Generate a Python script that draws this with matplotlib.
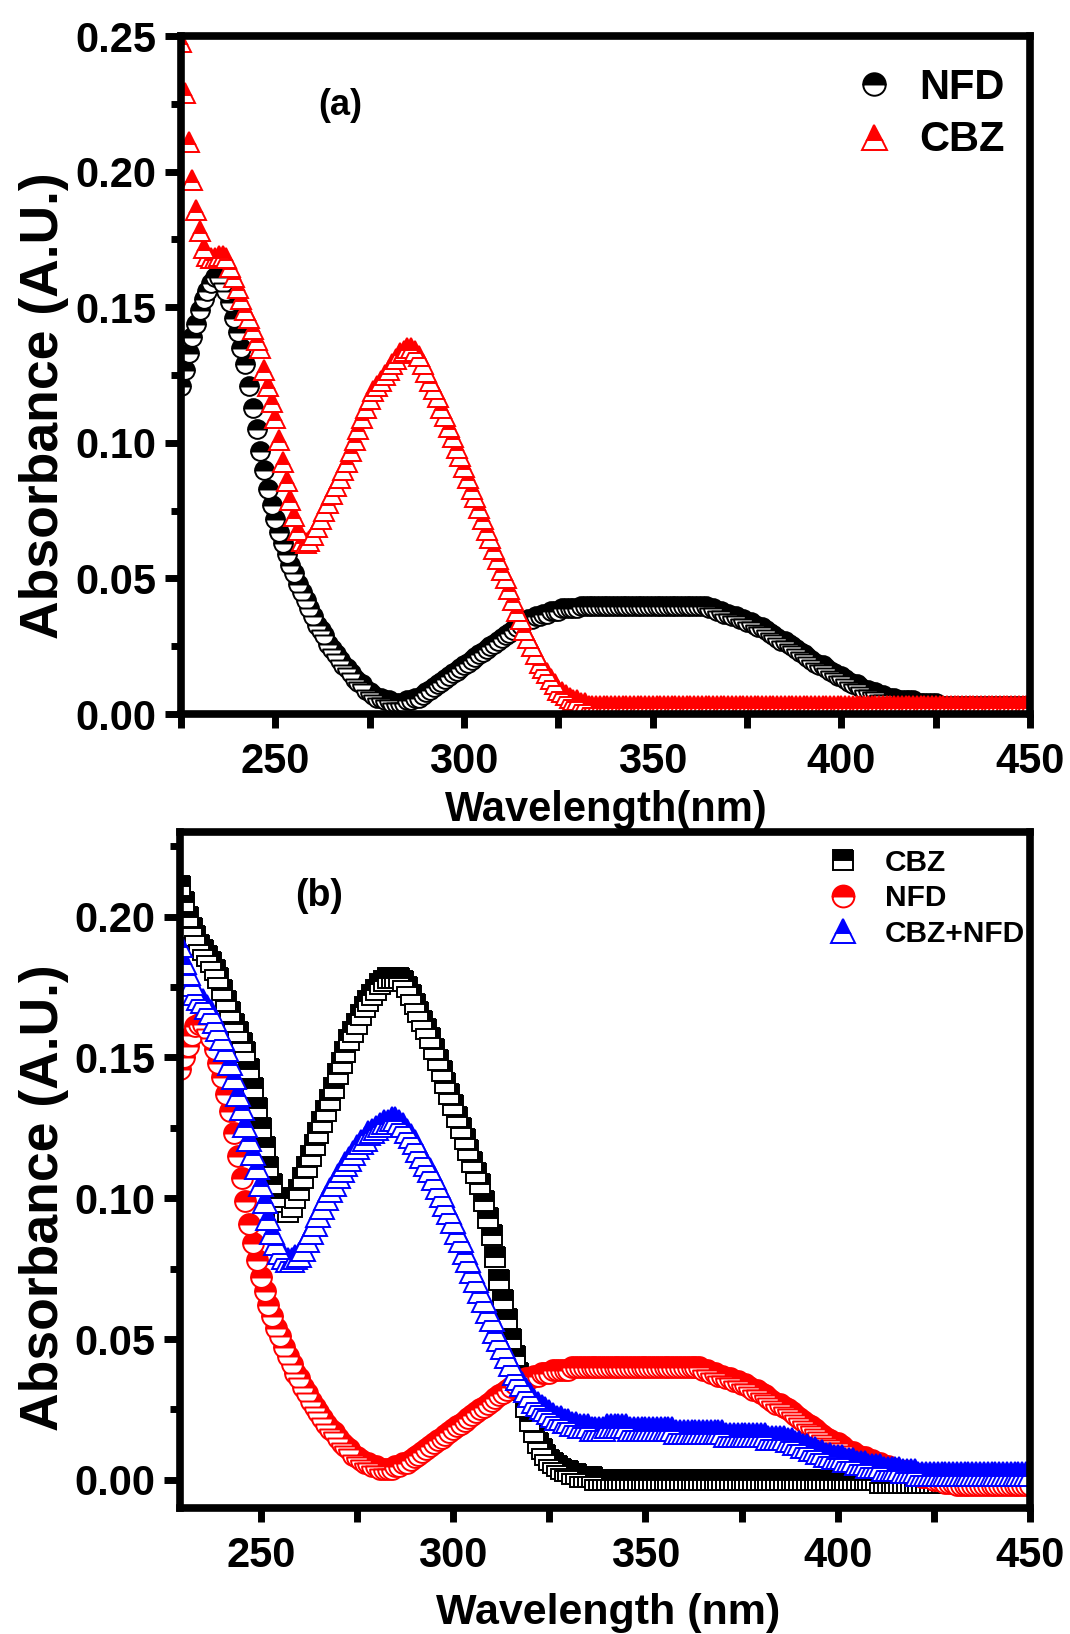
import numpy as np
import matplotlib
matplotlib.use('Agg')
import matplotlib.pyplot as plt
from matplotlib import font_manager
from matplotlib.ticker import MultipleLocator, FormatStrFormatter

# narrow bold face for ticks / legend if present, plain bold otherwise
_names = {f.name for f in font_manager.fontManager.ttflist}
narrow = 'Liberation Sans Narrow' if 'Liberation Sans Narrow' in _names else 'Liberation Sans'
plt.rcParams['font.family'] = [narrow, 'DejaVu Sans']
plt.rcParams['font.weight'] = 'bold'

# ---- (a) single compounds, 225-450 nm, 1 nm steps ----
wl_a = np.arange(225, 451)
nfd_a = [
    0.121, 0.127, 0.133, 0.139, 0.144, 0.149, 0.153, 0.156, 0.159, 0.161,  # 225
    0.161, 0.159, 0.156, 0.152, 0.146, 0.141, 0.135, 0.129, 0.121, 0.113,  # 235
    0.105, 0.097, 0.090, 0.083, 0.077, 0.072, 0.067, 0.063, 0.059, 0.055,  # 245
    0.052, 0.048, 0.045, 0.042, 0.039, 0.036, 0.033, 0.031, 0.029, 0.026,  # 255
    0.024, 0.022, 0.020, 0.018, 0.017, 0.015, 0.013, 0.012, 0.011, 0.009,  # 265
    0.008, 0.007, 0.006, 0.006, 0.005, 0.005, 0.004, 0.004, 0.004, 0.004,  # 275
    0.005, 0.005, 0.006, 0.006, 0.007, 0.008, 0.009, 0.010, 0.011, 0.012,  # 285
    0.013, 0.014, 0.015, 0.016, 0.017, 0.018, 0.019, 0.020, 0.021, 0.022,  # 295
    0.023, 0.024, 0.025, 0.026, 0.027, 0.028, 0.029, 0.030, 0.031, 0.032,  # 305
    0.033, 0.034, 0.035, 0.035, 0.036, 0.036, 0.037, 0.037, 0.038, 0.038,  # 315
    0.038, 0.039, 0.039, 0.039, 0.039, 0.039, 0.040, 0.040, 0.040, 0.040,  # 325
    0.040, 0.040, 0.040, 0.040, 0.040, 0.040, 0.040, 0.040, 0.040, 0.040,  # 335
    0.040, 0.040, 0.040, 0.040, 0.040, 0.040, 0.040, 0.040, 0.040, 0.040,  # 345
    0.040, 0.040, 0.040, 0.040, 0.040, 0.040, 0.040, 0.040, 0.040, 0.040,  # 355
    0.039, 0.039, 0.038, 0.038, 0.037, 0.037, 0.036, 0.036, 0.035, 0.035,  # 365
    0.034, 0.034, 0.033, 0.032, 0.032, 0.031, 0.030, 0.029, 0.028, 0.027,  # 375
    0.027, 0.026, 0.025, 0.024, 0.023, 0.022, 0.021, 0.020, 0.019, 0.018,  # 385
    0.018, 0.017, 0.016, 0.015, 0.014, 0.014, 0.013, 0.012, 0.011, 0.011,  # 395
    0.010, 0.009, 0.009, 0.008, 0.008, 0.007, 0.007, 0.006, 0.006, 0.006,  # 405
    0.005, 0.005, 0.005, 0.005, 0.005, 0.004, 0.004, 0.004, 0.004, 0.004,  # 415
    0.004, 0.003, 0.003, 0.003, 0.003, 0.003, 0.003, 0.003, 0.003, 0.003,  # 425
    0.003, 0.003, 0.003, 0.003, 0.003, 0.003, 0.003, 0.003, 0.003, 0.003,  # 435
    0.003, 0.003, 0.003, 0.003, 0.003, 0.003,                              # 445
]
cbz_a = [
    0.248, 0.229, 0.211, 0.197, 0.186, 0.178, 0.172, 0.169, 0.168, 0.168,  # 225
    0.169, 0.169, 0.168, 0.165, 0.161, 0.157, 0.153, 0.149, 0.146, 0.142,  # 235
    0.138, 0.135, 0.127, 0.121, 0.115, 0.109, 0.101, 0.093, 0.086, 0.079,  # 245
    0.073, 0.068, 0.064, 0.063, 0.064, 0.066, 0.069, 0.072, 0.075, 0.078,  # 255
    0.081, 0.084, 0.087, 0.090, 0.093, 0.097, 0.101, 0.105, 0.109, 0.113,  # 265
    0.116, 0.119, 0.121, 0.123, 0.125, 0.127, 0.129, 0.131, 0.133, 0.134,  # 275
    0.135, 0.135, 0.134, 0.132, 0.129, 0.126, 0.123, 0.120, 0.117, 0.113,  # 285
    0.110, 0.106, 0.102, 0.098, 0.095, 0.091, 0.087, 0.083, 0.080, 0.076,  # 295
    0.072, 0.068, 0.065, 0.061, 0.057, 0.053, 0.050, 0.046, 0.042, 0.038,  # 305
    0.035, 0.031, 0.028, 0.025, 0.022, 0.019, 0.017, 0.015, 0.013, 0.011,  # 315
    0.009, 0.008, 0.007, 0.006, 0.005, 0.005, 0.004, 0.004, 0.003, 0.003,  # 325
    0.003, 0.003, 0.003, 0.003, 0.003, 0.003, 0.003, 0.003, 0.003, 0.003,  # 335
    0.003, 0.003, 0.003, 0.003, 0.003, 0.003, 0.003, 0.003, 0.003, 0.003,  # 345
    0.003, 0.003, 0.003, 0.003, 0.003, 0.003, 0.003, 0.003, 0.003, 0.003,  # 355
    0.003, 0.003, 0.003, 0.003, 0.003, 0.003, 0.003, 0.003, 0.003, 0.003,  # 365
    0.003, 0.003, 0.003, 0.003, 0.003, 0.003, 0.003, 0.003, 0.003, 0.003,  # 375
    0.003, 0.003, 0.003, 0.003, 0.003, 0.003, 0.003, 0.003, 0.003, 0.003,  # 385
    0.003, 0.003, 0.003, 0.003, 0.003, 0.003, 0.003, 0.003, 0.003, 0.003,  # 395
    0.003, 0.003, 0.003, 0.003, 0.003, 0.003, 0.003, 0.003, 0.003, 0.003,  # 405
    0.003, 0.003, 0.003, 0.003, 0.003, 0.003, 0.003, 0.003, 0.003, 0.003,  # 415
    0.003, 0.003, 0.003, 0.003, 0.003, 0.003, 0.003, 0.003, 0.003, 0.003,  # 425
    0.003, 0.003, 0.003, 0.003, 0.003, 0.003, 0.003, 0.003, 0.003, 0.003,  # 435
    0.003, 0.003, 0.003, 0.003, 0.003, 0.003,                              # 445
]

# ---- (b) CBZ, NFD and the mixture, 229-450 nm ----
wl_b = np.arange(229, 451)
cbz_b = [
    0.211, 0.205, 0.200, 0.196, 0.193, 0.190, 0.188, 0.186, 0.184, 0.181,  # 229
    0.178, 0.174, 0.170, 0.166, 0.162, 0.159, 0.155, 0.152, 0.146, 0.139,  # 239
    0.132, 0.125, 0.118, 0.111, 0.105, 0.100, 0.097, 0.095, 0.095, 0.097,  # 249
    0.100, 0.103, 0.107, 0.111, 0.115, 0.119, 0.123, 0.127, 0.131, 0.135,  # 259
    0.139, 0.144, 0.148, 0.152, 0.156, 0.159, 0.162, 0.165, 0.168, 0.170,  # 269
    0.172, 0.174, 0.176, 0.177, 0.178, 0.178, 0.178, 0.178, 0.177, 0.175,  # 279
    0.172, 0.169, 0.166, 0.163, 0.160, 0.157, 0.153, 0.149, 0.145, 0.141,  # 289
    0.137, 0.133, 0.129, 0.125, 0.121, 0.117, 0.113, 0.109, 0.105, 0.099,  # 299
    0.093, 0.087, 0.079, 0.071, 0.064, 0.057, 0.050, 0.044, 0.038, 0.032,  # 309
    0.026, 0.021, 0.017, 0.013, 0.011, 0.009, 0.007, 0.006, 0.005, 0.004,  # 319
    0.003, 0.003, 0.002, 0.002, 0.001, 0.001, 0.001, 0.001, 0.000, 0.000,  # 329
    0.000, 0.000, 0.000, 0.000, 0.000, 0.000, 0.000, 0.000, 0.000, 0.000,  # 339
    0.000, 0.000, 0.000, 0.000, 0.000, 0.000, 0.000, 0.000, 0.000, 0.000,  # 349
    0.000, 0.000, 0.000, 0.000, 0.000, 0.000, 0.000, 0.000, 0.000, 0.000,  # 359
    0.000, 0.000, 0.000, 0.000, 0.000, 0.000, 0.000, 0.000, 0.000, 0.000,  # 369
    0.000, 0.000, 0.000, 0.000, 0.000, 0.000, 0.000, 0.000, 0.000, 0.000,  # 379
    0.000, 0.000, 0.000, 0.000, 0.000, 0.000, 0.000, 0.000, 0.000, 0.000,  # 389
    0.000, 0.000, 0.000, 0.000, 0.000, 0.000, 0.000, 0.000, 0.000, 0.000,  # 399
    0.000, 0.000, -0.001, -0.001, -0.001, -0.001, -0.001, -0.001, -0.001, -0.001,  # 409
    -0.001, -0.001, -0.001, -0.001, -0.001, -0.001, -0.001, -0.001, -0.001, -0.001,  # 419
    -0.001, -0.001, -0.001, -0.001, -0.001, -0.001, -0.001, -0.001, -0.001, -0.001,  # 429
    -0.001, -0.001, -0.001, -0.001, -0.001, -0.001, -0.001, -0.001, -0.001, -0.001,  # 439
    -0.001, -0.001,                                                                  # 449
]
nfd_b = [
    0.146, 0.150, 0.154, 0.158, 0.161, 0.162, 0.162, 0.160, 0.157, 0.153,  # 229
    0.148, 0.143, 0.137, 0.131, 0.123, 0.115, 0.107, 0.099, 0.091, 0.084,  # 239
    0.078, 0.072, 0.067, 0.062, 0.058, 0.054, 0.051, 0.047, 0.044, 0.041,  # 249
    0.038, 0.036, 0.033, 0.031, 0.028, 0.026, 0.024, 0.022, 0.020, 0.018,  # 259
    0.017, 0.015, 0.013, 0.012, 0.011, 0.009, 0.008, 0.007, 0.006, 0.006,  # 269
    0.005, 0.005, 0.004, 0.004, 0.004, 0.004, 0.005, 0.005, 0.006, 0.006,  # 279
    0.007, 0.008, 0.009, 0.010, 0.011, 0.012, 0.013, 0.014, 0.015, 0.016,  # 289
    0.017, 0.018, 0.019, 0.020, 0.021, 0.022, 0.023, 0.024, 0.025, 0.026,  # 299
    0.027, 0.028, 0.029, 0.030, 0.031, 0.032, 0.033, 0.034, 0.035, 0.035,  # 309
    0.036, 0.036, 0.037, 0.037, 0.038, 0.038, 0.038, 0.039, 0.039, 0.039,  # 319
    0.039, 0.039, 0.040, 0.040, 0.040, 0.040, 0.040, 0.040, 0.040, 0.040,  # 329
    0.040, 0.040, 0.040, 0.040, 0.040, 0.040, 0.040, 0.040, 0.040, 0.040,  # 339
    0.040, 0.040, 0.040, 0.040, 0.040, 0.040, 0.040, 0.040, 0.040, 0.040,  # 349
    0.040, 0.040, 0.040, 0.040, 0.040, 0.040, 0.039, 0.039, 0.038, 0.038,  # 359
    0.037, 0.037, 0.036, 0.036, 0.035, 0.035, 0.034, 0.034, 0.033, 0.032,  # 369
    0.032, 0.031, 0.030, 0.029, 0.028, 0.027, 0.027, 0.026, 0.025, 0.024,  # 379
    0.023, 0.022, 0.021, 0.020, 0.019, 0.018, 0.017, 0.016, 0.015, 0.014,  # 389
    0.013, 0.013, 0.012, 0.011, 0.010, 0.010, 0.009, 0.008, 0.008, 0.007,  # 399
    0.007, 0.006, 0.006, 0.005, 0.005, 0.004, 0.004, 0.003, 0.003, 0.003,  # 409
    0.002, 0.002, 0.002, 0.001, 0.001, 0.001, 0.000, 0.000, 0.000, -0.001,  # 419
    -0.001, -0.001, -0.002, -0.002, -0.002, -0.002, -0.002, -0.002, -0.002, -0.002,  # 429
    -0.002, -0.002, -0.002, -0.002, -0.002, -0.002, -0.002, -0.002, -0.002, -0.002,  # 439
    -0.002, -0.002,                                                                  # 449
]
mix_b = [
    0.190, 0.184, 0.180, 0.176, 0.173, 0.171, 0.170, 0.168, 0.166, 0.163,  # 229
    0.160, 0.157, 0.153, 0.148, 0.143, 0.137, 0.132, 0.126, 0.121, 0.116,  # 239
    0.111, 0.105, 0.099, 0.093, 0.088, 0.084, 0.081, 0.079, 0.078, 0.078,  # 249
    0.079, 0.080, 0.082, 0.085, 0.088, 0.091, 0.094, 0.097, 0.100, 0.103,  # 259
    0.105, 0.108, 0.110, 0.112, 0.114, 0.116, 0.118, 0.120, 0.121, 0.123,  # 269
    0.124, 0.125, 0.126, 0.127, 0.127, 0.128, 0.128, 0.127, 0.126, 0.124,  # 279
    0.122, 0.120, 0.117, 0.115, 0.112, 0.110, 0.107, 0.104, 0.101, 0.098,  # 289
    0.095, 0.092, 0.088, 0.085, 0.081, 0.078, 0.074, 0.071, 0.067, 0.064,  # 299
    0.060, 0.057, 0.053, 0.050, 0.047, 0.044, 0.041, 0.038, 0.036, 0.034,  # 309
    0.032, 0.030, 0.028, 0.027, 0.026, 0.025, 0.024, 0.023, 0.022, 0.022,  # 319
    0.021, 0.021, 0.020, 0.020, 0.019, 0.019, 0.019, 0.018, 0.018, 0.018,  # 329
    0.018, 0.019, 0.019, 0.019, 0.019, 0.019, 0.019, 0.018, 0.018, 0.018,  # 339
    0.018, 0.018, 0.018, 0.018, 0.018, 0.018, 0.018, 0.018, 0.018, 0.017,  # 349
    0.017, 0.017, 0.017, 0.017, 0.017, 0.017, 0.017, 0.017, 0.017, 0.017,  # 359
    0.017, 0.017, 0.016, 0.016, 0.016, 0.016, 0.016, 0.016, 0.016, 0.016,  # 369
    0.016, 0.016, 0.016, 0.015, 0.015, 0.015, 0.015, 0.015, 0.014, 0.014,  # 379
    0.013, 0.013, 0.012, 0.012, 0.011, 0.011, 0.010, 0.010, 0.009, 0.009,  # 389
    0.008, 0.008, 0.008, 0.007, 0.007, 0.007, 0.006, 0.006, 0.006, 0.005,  # 399
    0.005, 0.005, 0.005, 0.004, 0.004, 0.004, 0.004, 0.004, 0.003, 0.003,  # 409
    0.003, 0.003, 0.002, 0.002, 0.002, 0.002, 0.002, 0.002, 0.002, 0.002,  # 419
    0.002, 0.002, 0.002, 0.002, 0.002, 0.002, 0.002, 0.002, 0.002, 0.002,  # 429
    0.002, 0.002, 0.002, 0.002, 0.002, 0.002, 0.002, 0.002, 0.002, 0.002,  # 439
    0.002, 0.002,                                                          # 449
]


def half_marker(ax, x, y, marker, color, size, label):
    # Origin style "half up" symbol: coloured top, white bottom
    ax.plot(x, y, linestyle='none', marker=marker, markersize=size,
            fillstyle='top', markerfacecolor=color, markerfacecoloralt='white',
            markeredgecolor=color, markeredgewidth=1.4, label=label)


def frame(ax, xlim, ylim, ymax_tick):
    ax.set_xlim(*xlim)
    ax.set_ylim(*ylim)
    ax.xaxis.set_major_locator(MultipleLocator(50))
    ax.xaxis.set_minor_locator(MultipleLocator(25))
    ax.set_yticks(np.arange(0, ymax_tick + 0.001, 0.05))
    ax.yaxis.set_minor_locator(MultipleLocator(0.025))
    ax.yaxis.set_major_formatter(FormatStrFormatter('%.2f'))
    for sp in ax.spines.values():
        sp.set_linewidth(5.5)
    ax.tick_params(axis='x', which='both', direction='out', length=10, width=5,
                   labelsize=30, pad=10)
    ax.tick_params(axis='y', which='major', direction='out', length=11.5, width=5,
                   labelsize=30, pad=6)
    ax.tick_params(axis='y', which='minor', direction='out', length=7, width=5)


fig = plt.figure(figsize=(10.70, 16.34), dpi=100)
ax1 = fig.add_axes([0.1692, 0.5630, 0.7935, 0.4149])
ax2 = fig.add_axes([0.1682, 0.0771, 0.7944, 0.4137])

# panel (a)
half_marker(ax1, wl_a, nfd_a, 'o', 'black', 13.5, 'NFD')
half_marker(ax1, wl_a, cbz_a, '^', 'red', 15, 'CBZ')
frame(ax1, (225, 450), (0, 0.25), 0.25)
ax1.legend(loc='upper right', bbox_to_anchor=(0.9705, 0.9535), frameon=False,
           fontsize=30, markerscale=1.2, handlelength=1.0, handletextpad=0.6,
           labelspacing=0.3, borderpad=0, borderaxespad=0)
ax1.text(0.187, 0.897, '(a)', transform=ax1.transAxes, ha='center', va='center',
         fontsize=26, family=['Liberation Sans', 'DejaVu Sans'])

# panel (b)
half_marker(ax2, wl_b, cbz_b, 's', 'black', 14, 'CBZ')
half_marker(ax2, wl_b, nfd_b, 'o', 'red', 15, 'NFD')
half_marker(ax2, wl_b, mix_b, '^', 'blue', 17, 'CBZ+NFD')
frame(ax2, (229, 450), (-0.01, 0.23), 0.20)
ax2.legend(loc='upper right', bbox_to_anchor=(0.994, 0.975), frameon=False,
           fontsize=21.5, markerscale=1.05, handlelength=1.0, handletextpad=0.9,
           labelspacing=0.25, borderpad=0, borderaxespad=0)
ax2.text(0.1635, 0.905, '(b)', transform=ax2.transAxes, ha='center', va='center',
         fontsize=27, family=['Liberation Sans', 'DejaVu Sans'])

# axis titles
for yc in (0.7515, 0.2668):
    fig.text(0.041, yc, 'Absorbance (A.U.)', rotation=90, ha='center', va='center',
             fontsize=38.5, family=['Liberation Sans', 'DejaVu Sans'])
fig.text(0.567, 0.5043, 'Wavelength(nm)', ha='center', va='center', fontsize=30)
fig.text(0.568, 0.0130, 'Wavelength (nm)', ha='center', va='center', fontsize=31)

fig.savefig('out.png', dpi=100)
